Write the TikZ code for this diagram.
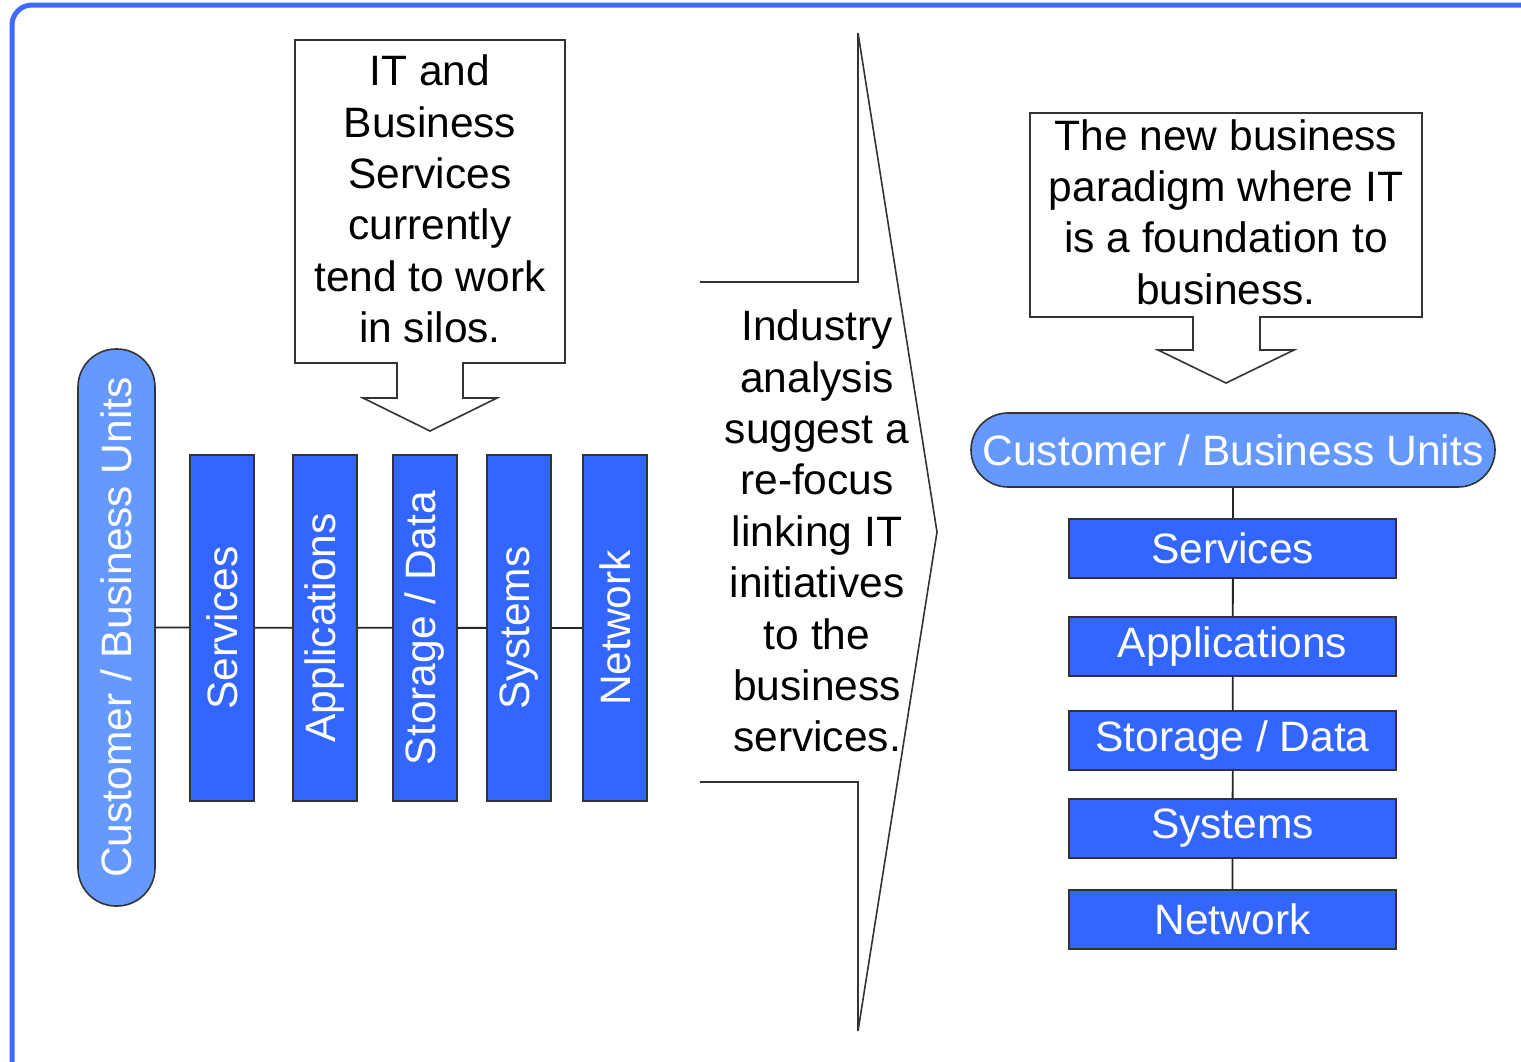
\documentclass[tikz,border=0pt]{standalone}
\usepackage{fontspec}
\setmainfont{Liberation Sans}
\usetikzlibrary{backgrounds}
\definecolor{frameblue}{HTML}{3D6BFF}
\definecolor{barblue}{HTML}{3366FF}
\definecolor{pillblue}{HTML}{6699FF}
\tikzset{
  txt/.style={font=\fontsize{42.5}{51.4}\selectfont, align=center, inner sep=0pt},
  bar/.style={draw=black!80, line width=1.6pt, fill=barblue, text=white,
    font=\fontsize{42.5}{51.4}\selectfont, inner sep=0pt},
  pill/.style={draw=black!80, line width=1.6pt, fill=pillblue, text=white,
    font=\fontsize{42.5}{51.4}\selectfont, inner sep=0pt},
  outline/.style={draw=black!80, line width=1.6pt, line join=miter},
  link/.style={draw=black!85, line width=1.8pt}
}
\begin{document}
\begin{tikzpicture}[x=1pt,y=-1pt]
\useasboundingbox (0,0) rectangle (1521,1061);
% outer frame
\draw[frameblue, line width=5pt, rounded corners=20pt] (12,5) rectangle (1580,1110);

% ---- left: silo view ----
\node[pill, rounded corners=38pt, rotate=90, minimum width=557pt, minimum height=77pt]
  (lpill) at (116.5,627.5) {Customer / Business Units};
\node[bar, rotate=90, minimum width=346pt, minimum height=64pt] (lsvc) at (222,628) {Services};
\node[bar, rotate=90, minimum width=346pt, minimum height=64pt] (lapp) at (325,628) {Applications};
\node[bar, rotate=90, minimum width=346pt, minimum height=64pt] (lsto) at (425,628) {Storage / Data};
\node[bar, rotate=90, minimum width=346pt, minimum height=64pt] (lsys) at (519,628) {Systems};
\node[bar, rotate=90, minimum width=346pt, minimum height=64pt] (lnet) at (615,628) {Network};
\begin{scope}[on background layer]
  \draw[link] (lpill.center) -- (lnet.center);
\end{scope}

% callout above the silos
\draw[outline] (295,40) -- (565,40) -- (565,363) -- (463,363) -- (463,398) -- (497,398)
  -- (430,431) -- (363,398) -- (397,398) -- (397,363) -- (295,363) -- cycle;
\node[txt] (lnote) at (430,199) {IT and\\Business\\Services\\currently\\tend to work\\in silos.};

% ---- middle: transition arrow ----
\draw[outline] (700,282) -- (858,282) -- (858,33) -- (937,532) -- (858,1031) -- (858,782) -- (700,782);
\node[txt] (mnote) at (817,531) {Industry\\analysis\\suggest a\\re-focus\\linking IT\\initiatives\\to the\\business\\services.};

% ---- right: layered view ----
\draw[outline] (1030,113) -- (1422,113) -- (1422,317) -- (1260,317) -- (1260,350) -- (1294,350)
  -- (1226,383) -- (1158,350) -- (1193,350) -- (1193,317) -- (1030,317) -- cycle;
\node[txt] (rnote) at (1226,212) {The new business\\paradigm where IT\\is a foundation to\\business.};

\node[pill, rounded corners=37pt, minimum width=524pt, minimum height=74pt]
  (rpill) at (1233,450) {Customer / Business Units};
\node[bar, minimum width=327pt, minimum height=59pt] (rsvc) at (1232.5,548.5) {Services};
\node[bar, minimum width=327pt, minimum height=59pt] (rapp) at (1232.5,646.5) {Applications};
\node[bar, minimum width=327pt, minimum height=59pt] (rsto) at (1232.5,740.5) {Storage / Data};
\node[bar, minimum width=327pt, minimum height=59pt] (rsys) at (1232.5,828.5) {Systems};
\node[bar, minimum width=327pt, minimum height=59pt] (rnet) at (1232.5,919.5) {Network};
\begin{scope}[on background layer]
  \draw[link] (rpill.center) -- (rnet.center);
\end{scope}
\end{tikzpicture}
\end{document}
